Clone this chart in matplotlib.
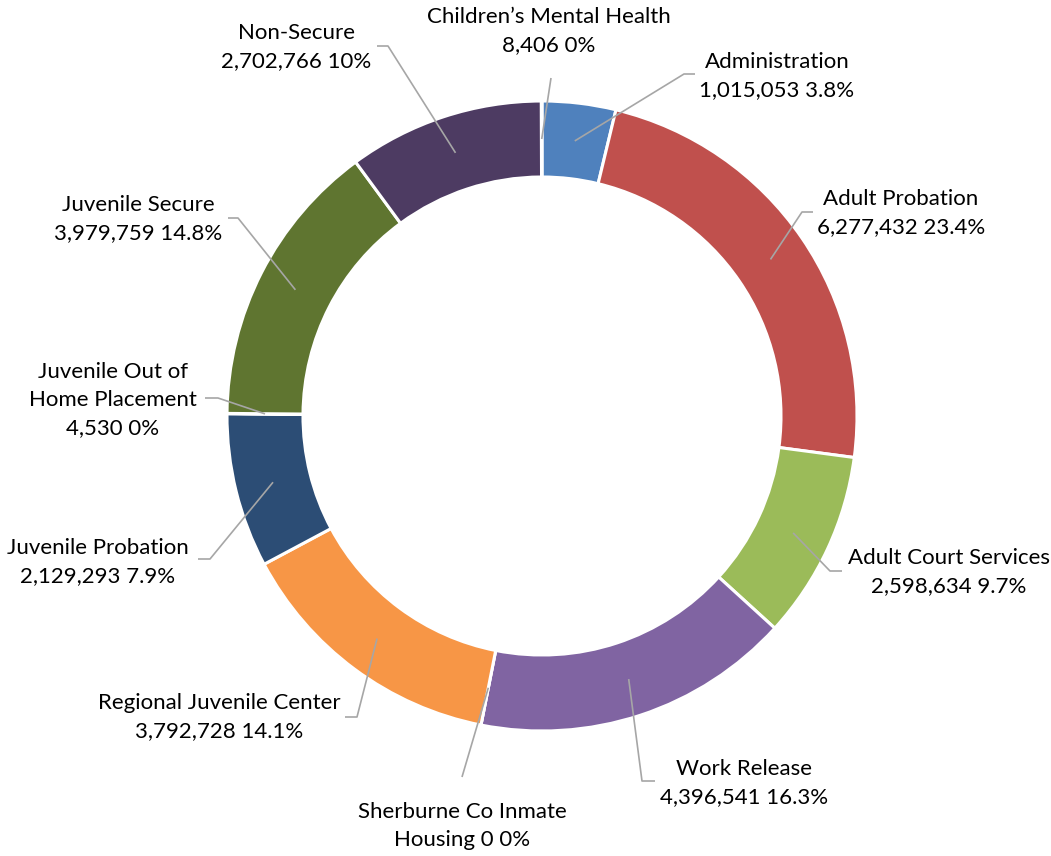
import matplotlib
matplotlib.use("Agg")
import matplotlib.pyplot as plt
import numpy as np

plt.rcParams['font.family'] = ['Lato', 'DejaVu Sans']

# Slices in drawing order (clockwise from 12 o'clock)
names = ['Administration', 'Adult Probation', 'Adult Court Services', 'Work Release',
         'Sherburne Co Inmate\nHousing', 'Regional Juvenile Center', 'Juvenile Probation',
         'Juvenile Out of\nHome Placement', 'Juvenile Secure', 'Non-Secure',
         'Children\u2019s Mental Health']
values = [1015053, 6277432, 2598634, 4396541, 0, 3792728, 2129293, 4530, 3979759,
          2702766, 8406]
pct_labels = ['3.8%', '23.4%', '9.7%', '16.3%', '0%', '14.1%', '7.9%', '0%', '14.8%',
              '10%', '0%']
colors = ['#4F81BD', '#C0504D', '#9BBB59', '#8064A2', '#4BACC6', '#F79646', '#2C4D75',
          '#772C2A', '#5F7530', '#4D3B62', '#276A7C']

# layout in pixel coordinates (y downwards)
cx, cy = 542, 416
R_out, R_in = 315, 239
text_pos = [(777, 76), (901, 213), (949, 572), (744, 783), (462, 826), (219, 717),
            (98, 562), (113, 400), (138, 219), (296, 47), (549, 31)]
leader_pts = [[(684, 74), (695, 74)], [(802, 212), (813, 212)], [(830, 571), (842, 571)],
              [(642, 781), (655, 781)], [(462, 777)], [(357, 717), (345, 717)],
              [(210, 559), (198, 559)], [(218, 398), (205, 398)], [(238, 218), (228, 218)],
              [(388, 46), (377, 46)], [(551, 78)]]

fig = plt.figure(figsize=(10.51, 8.56), dpi=100)
ax = fig.add_axes([0, 0, 1, 1])

# y axis is inverted, so counterclock=True with -90 start draws clockwise from the top
wedges, _ = ax.pie(values, colors=colors, startangle=-90, counterclock=True,
                   radius=R_out, center=(cx, cy), frame=False,
                   wedgeprops=dict(width=R_out - R_in, edgecolor='white', linewidth=2.2))

ax.set_xlim(0, 1051)
ax.set_ylim(856, 0)
ax.set_aspect('equal')
ax.axis('off')

r_mid = (R_out + R_in) / 2
for i, w in enumerate(wedges):
    ang = np.deg2rad((w.theta1 + w.theta2) / 2)
    ax0 = (cx + r_mid * np.cos(ang), cy + r_mid * np.sin(ang))
    pts = [ax0] + leader_pts[i]
    ax.plot([p[0] for p in pts], [p[1] for p in pts], color='#A6A6A6', lw=1.2,
            solid_capstyle='butt', zorder=3)
    sep = ' ' if 'Sherburne' in names[i] else '\n'
    label = f"{names[i]}{sep}{values[i]:,} {pct_labels[i]}"
    ax.text(text_pos[i][0], text_pos[i][1], label, ha='center', va='center',
            fontsize=16, color='black', linespacing=1.48, zorder=4)

fig.savefig('out.png', dpi=100)
